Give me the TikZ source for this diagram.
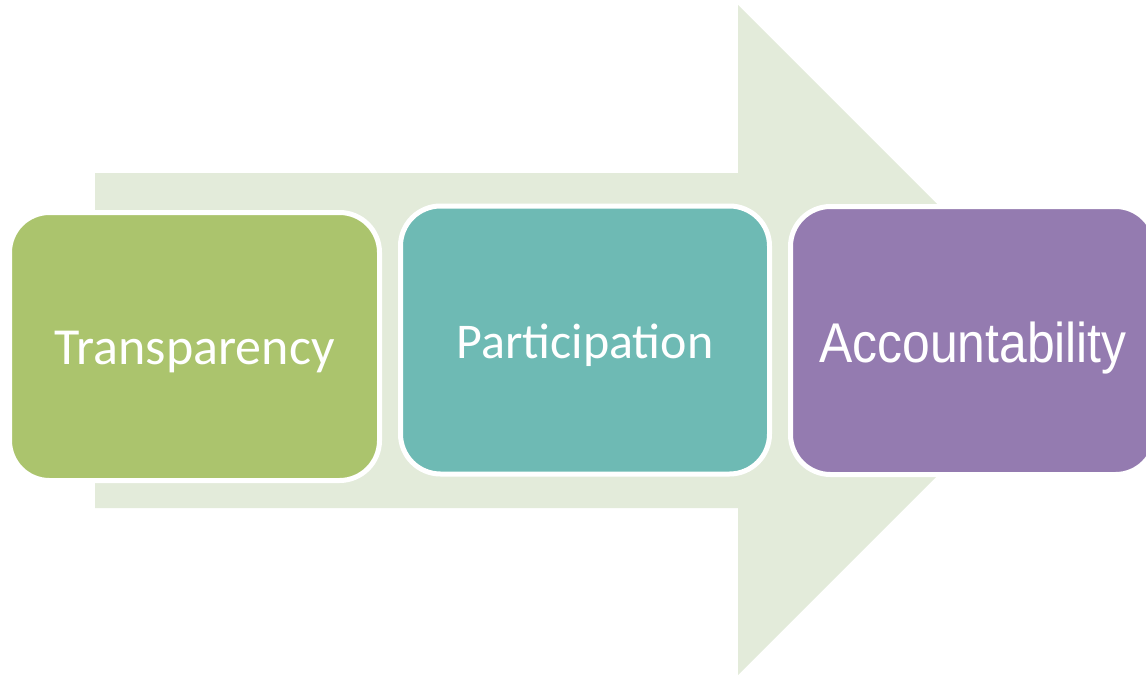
\documentclass[tikz,border=0pt]{standalone}
\usepackage{fontspec}
\setmainfont{Carlito}
\newfontfamily\arialfont{Liberation Sans}
\definecolor{bandgreen}{RGB}{227,235,218}
\definecolor{boxgreen}{RGB}{171,196,109}
\definecolor{boxteal}{RGB}{110,186,180}
\definecolor{boxpurple}{RGB}{148,123,176}
\begin{document}
\begin{tikzpicture}
    [x=1pt, y=-1pt,
    box/.style={draw=white, line width=5pt, rounded corners=40pt, inner sep=0pt,
        minimum width=370pt, minimum height=268pt, text=white,
        font=\fontsize{50}{60}\selectfont, text height=36pt, text depth=0pt},
    band/.style={fill=bandgreen}]

    \useasboundingbox (0,0) rectangle (1146,675);
    \clip (0,0) rectangle (1146,675);

    % Big arrow behind the boxes
    \fill[band] (95,173) -- (738,173) -- (738,5) -- (1073,340)
        -- (738,675) -- (738,508) -- (95,508) -- cycle;

    % The three steps
    \node[box, fill=boxgreen, font=\fontsize{52}{62}\selectfont] (transp) at (194.5,346.5) {Transparency};
    \node[box, fill=boxteal, minimum width=369pt] (partic) at (585,340) {Participation};
    \node[box, fill=boxpurple, minimum width=365pt, text height=44pt,
        font=\arialfont\fontsize{56}{66}\selectfont] (account) at (973,340.5)
        {\scalebox{0.89}[1]{Accountability}};

\end{tikzpicture}
\end{document}
